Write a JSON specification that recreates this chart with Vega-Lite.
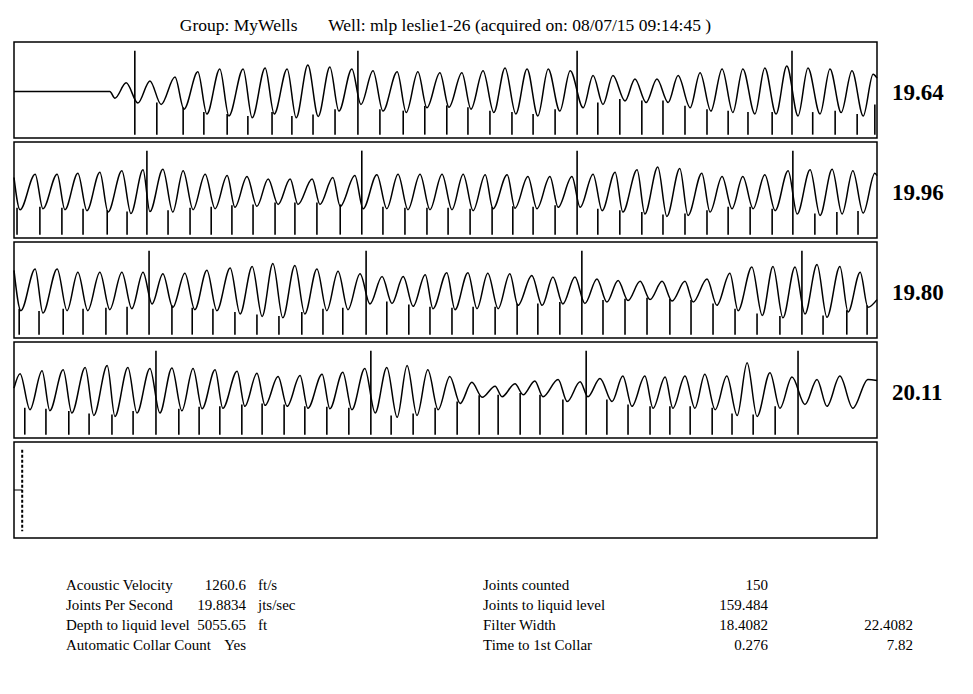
{
  "$schema": "https://vega.github.io/schema/vega-lite/v6.json",
  "background": "white",
  "padding": {"left": 10, "top": 15, "right": 5, "bottom": 5},
  "config": {
    "font": "Liberation Serif",
    "view": {"stroke": "black", "strokeWidth": 1.5},
    "title": {"font": "Liberation Serif", "fontWeight": "normal", "color": "black"}
  },
  "datasets": {
    "wave": [
      {"r":1,"t":0,"v":-0.03},{"r":1,"t":0.222,"v":-0.03},{"r":1,"t":0.234,"v":-0.17},{"r":1,"t":0.26,"v":0.15},{"r":1,"t":0.287,"v":-0.27},{"r":1,"t":0.315,"v":0.19},{"r":1,"t":0.341,"v":-0.3},{"r":1,"t":0.373,"v":0.27},{"r":1,"t":0.394,"v":-0.4},{"r":1,"t":0.426,"v":0.38},{"r":1,"t":0.447,"v":-0.5},{"r":1,"t":0.477,"v":0.44},{"r":1,"t":0.498,"v":-0.54},{"r":1,"t":0.531,"v":0.44},{"r":1,"t":0.552,"v":-0.58},{"r":1,"t":0.582,"v":0.46},{"r":1,"t":0.603,"v":-0.5},{"r":1,"t":0.633,"v":0.44},{"r":1,"t":0.654,"v":-0.58},{"r":1,"t":0.681,"v":0.52},{"r":1,"t":0.705,"v":-0.55},{"r":1,"t":0.732,"v":0.48},{"r":1,"t":0.753,"v":-0.44},{"r":1,"t":0.783,"v":0.44},{"r":1,"t":0.804,"v":-0.3},{"r":1,"t":0.832,"v":0.4},{"r":1,"t":0.855,"v":-0.44},{"r":1,"t":0.888,"v":0.38},{"r":1,"t":0.909,"v":-0.47},{"r":1,"t":0.936,"v":0.38},{"r":1,"t":0.957,"v":-0.37},{"r":1,"t":0.987,"v":0.36},{"r":1,"t":1.008,"v":-0.36},{"r":1,"t":1.038,"v":0.36},{"r":1,"t":1.059,"v":-0.4},{"r":1,"t":1.087,"v":0.4},{"r":1,"t":1.112,"v":-0.47},{"r":1,"t":1.138,"v":0.46},{"r":1,"t":1.163,"v":-0.5},{"r":1,"t":1.189,"v":0.44},{"r":1,"t":1.214,"v":-0.54},{"r":1,"t":1.238,"v":0.44},{"r":1,"t":1.265,"v":-0.44},{"r":1,"t":1.289,"v":0.4},{"r":1,"t":1.319,"v":-0.37},{"r":1,"t":1.342,"v":0.3},{"r":1,"t":1.365,"v":-0.3},{"r":1,"t":1.388,"v":0.3},{"r":1,"t":1.416,"v":-0.23},{"r":1,"t":1.439,"v":0.23},{"r":1,"t":1.465,"v":-0.26},{"r":1,"t":1.49,"v":0.23},{"r":1,"t":1.516,"v":-0.26},{"r":1,"t":1.539,"v":0.3},{"r":1,"t":1.567,"v":-0.37},{"r":1,"t":1.59,"v":0.36},{"r":1,"t":1.615,"v":-0.44},{"r":1,"t":1.641,"v":0.44},{"r":1,"t":1.666,"v":-0.47},{"r":1,"t":1.689,"v":0.44},{"r":1,"t":1.717,"v":-0.5},{"r":1,"t":1.74,"v":0.46},{"r":1,"t":1.766,"v":-0.5},{"r":1,"t":1.791,"v":0.5},{"r":1,"t":1.817,"v":-0.54},{"r":1,"t":1.84,"v":0.46},{"r":1,"t":1.868,"v":-0.5},{"r":1,"t":1.891,"v":0.44},{"r":1,"t":1.917,"v":-0.47},{"r":1,"t":1.942,"v":0.4},{"r":1,"t":1.968,"v":-0.54},{"r":1,"t":1.991,"v":0.33},{"r":1,"t":2.0,"v":0.25},

      {"r":2,"t":0,"v":0.26},{"r":2,"t":0.014,"v":-0.41},{"r":2,"t":0.049,"v":0.33},{"r":2,"t":0.067,"v":-0.39},{"r":2,"t":0.1,"v":0.33},{"r":2,"t":0.118,"v":-0.41},{"r":2,"t":0.148,"v":0.35},{"r":2,"t":0.169,"v":-0.43},{"r":2,"t":0.199,"v":0.37},{"r":2,"t":0.218,"v":-0.46},{"r":2,"t":0.25,"v":0.4},{"r":2,"t":0.271,"v":-0.49},{"r":2,"t":0.299,"v":0.42},{"r":2,"t":0.315,"v":-0.45},{"r":2,"t":0.345,"v":0.43},{"r":2,"t":0.368,"v":-0.46},{"r":2,"t":0.392,"v":0.4},{"r":2,"t":0.415,"v":-0.41},{"r":2,"t":0.443,"v":0.33},{"r":2,"t":0.466,"v":-0.39},{"r":2,"t":0.494,"v":0.3},{"r":2,"t":0.512,"v":-0.36},{"r":2,"t":0.54,"v":0.28},{"r":2,"t":0.563,"v":-0.34},{"r":2,"t":0.589,"v":0.23},{"r":2,"t":0.612,"v":-0.3},{"r":2,"t":0.64,"v":0.23},{"r":2,"t":0.658,"v":-0.3},{"r":2,"t":0.691,"v":0.23},{"r":2,"t":0.709,"v":-0.3},{"r":2,"t":0.739,"v":0.26},{"r":2,"t":0.756,"v":-0.34},{"r":2,"t":0.79,"v":0.3},{"r":2,"t":0.809,"v":-0.39},{"r":2,"t":0.841,"v":0.32},{"r":2,"t":0.864,"v":-0.39},{"r":2,"t":0.89,"v":0.33},{"r":2,"t":0.913,"v":-0.41},{"r":2,"t":0.941,"v":0.33},{"r":2,"t":0.964,"v":-0.41},{"r":2,"t":0.992,"v":0.33},{"r":2,"t":1.015,"v":-0.41},{"r":2,"t":1.041,"v":0.33},{"r":2,"t":1.064,"v":-0.43},{"r":2,"t":1.092,"v":0.32},{"r":2,"t":1.11,"v":-0.39},{"r":2,"t":1.143,"v":0.32},{"r":2,"t":1.161,"v":-0.38},{"r":2,"t":1.191,"v":0.28},{"r":2,"t":1.212,"v":-0.39},{"r":2,"t":1.242,"v":0.28},{"r":2,"t":1.261,"v":-0.36},{"r":2,"t":1.293,"v":0.28},{"r":2,"t":1.312,"v":-0.36},{"r":2,"t":1.342,"v":0.33},{"r":2,"t":1.363,"v":-0.43},{"r":2,"t":1.393,"v":0.37},{"r":2,"t":1.411,"v":-0.46},{"r":2,"t":1.444,"v":0.42},{"r":2,"t":1.462,"v":-0.5},{"r":2,"t":1.492,"v":0.48},{"r":2,"t":1.513,"v":-0.55},{"r":2,"t":1.543,"v":0.45},{"r":2,"t":1.562,"v":-0.53},{"r":2,"t":1.594,"v":0.35},{"r":2,"t":1.613,"v":-0.46},{"r":2,"t":1.641,"v":0.28},{"r":2,"t":1.664,"v":-0.39},{"r":2,"t":1.689,"v":0.28},{"r":2,"t":1.713,"v":-0.39},{"r":2,"t":1.74,"v":0.32},{"r":2,"t":1.764,"v":-0.43},{"r":2,"t":1.794,"v":0.4},{"r":2,"t":1.815,"v":-0.5},{"r":2,"t":1.845,"v":0.42},{"r":2,"t":1.868,"v":-0.53},{"r":2,"t":1.896,"v":0.43},{"r":2,"t":1.919,"v":-0.5},{"r":2,"t":1.944,"v":0.4},{"r":2,"t":1.968,"v":-0.48},{"r":2,"t":1.995,"v":0.35},{"r":2,"t":2.0,"v":0.3},

      {"r":3,"t":0,"v":0.41},{"r":3,"t":0.016,"v":-0.43},{"r":3,"t":0.049,"v":0.44},{"r":3,"t":0.067,"v":-0.48},{"r":3,"t":0.1,"v":0.44},{"r":3,"t":0.123,"v":-0.43},{"r":3,"t":0.148,"v":0.37},{"r":3,"t":0.171,"v":-0.43},{"r":3,"t":0.199,"v":0.37},{"r":3,"t":0.222,"v":-0.41},{"r":3,"t":0.25,"v":0.37},{"r":3,"t":0.273,"v":-0.39},{"r":3,"t":0.299,"v":0.37},{"r":3,"t":0.32,"v":-0.29},{"r":3,"t":0.345,"v":0.34},{"r":3,"t":0.368,"v":-0.36},{"r":3,"t":0.396,"v":0.35},{"r":3,"t":0.419,"v":-0.41},{"r":3,"t":0.447,"v":0.41},{"r":3,"t":0.47,"v":-0.43},{"r":3,"t":0.501,"v":0.46},{"r":3,"t":0.524,"v":-0.5},{"r":3,"t":0.552,"v":0.49},{"r":3,"t":0.575,"v":-0.55},{"r":3,"t":0.6,"v":0.55},{"r":3,"t":0.623,"v":-0.58},{"r":3,"t":0.651,"v":0.51},{"r":3,"t":0.674,"v":-0.5},{"r":3,"t":0.702,"v":0.44},{"r":3,"t":0.725,"v":-0.43},{"r":3,"t":0.751,"v":0.39},{"r":3,"t":0.774,"v":-0.41},{"r":3,"t":0.802,"v":0.34},{"r":3,"t":0.825,"v":-0.29},{"r":3,"t":0.853,"v":0.28},{"r":3,"t":0.876,"v":-0.28},{"r":3,"t":0.902,"v":0.28},{"r":3,"t":0.925,"v":-0.34},{"r":3,"t":0.953,"v":0.32},{"r":3,"t":0.971,"v":-0.39},{"r":3,"t":1.003,"v":0.36},{"r":3,"t":1.022,"v":-0.41},{"r":3,"t":1.052,"v":0.36},{"r":3,"t":1.073,"v":-0.39},{"r":3,"t":1.098,"v":0.35},{"r":3,"t":1.122,"v":-0.39},{"r":3,"t":1.149,"v":0.34},{"r":3,"t":1.168,"v":-0.32},{"r":3,"t":1.2,"v":0.3},{"r":3,"t":1.224,"v":-0.32},{"r":3,"t":1.249,"v":0.27},{"r":3,"t":1.272,"v":-0.29},{"r":3,"t":1.3,"v":0.27},{"r":3,"t":1.323,"v":-0.28},{"r":3,"t":1.351,"v":0.23},{"r":3,"t":1.374,"v":-0.25},{"r":3,"t":1.4,"v":0.2},{"r":3,"t":1.423,"v":-0.22},{"r":3,"t":1.451,"v":0.18},{"r":3,"t":1.474,"v":-0.2},{"r":3,"t":1.502,"v":0.18},{"r":3,"t":1.525,"v":-0.23},{"r":3,"t":1.555,"v":0.18},{"r":3,"t":1.574,"v":-0.25},{"r":3,"t":1.606,"v":0.23},{"r":3,"t":1.629,"v":-0.32},{"r":3,"t":1.659,"v":0.35},{"r":3,"t":1.678,"v":-0.43},{"r":3,"t":1.71,"v":0.48},{"r":3,"t":1.734,"v":-0.53},{"r":3,"t":1.759,"v":0.49},{"r":3,"t":1.782,"v":-0.58},{"r":3,"t":1.81,"v":0.48},{"r":3,"t":1.833,"v":-0.5},{"r":3,"t":1.861,"v":0.53},{"r":3,"t":1.884,"v":-0.57},{"r":3,"t":1.914,"v":0.49},{"r":3,"t":1.933,"v":-0.46},{"r":3,"t":1.961,"v":0.37},{"r":3,"t":1.979,"v":-0.36},{"r":3,"t":2.0,"v":-0.2},

      {"r":4,"t":0,"v":0.04},{"r":4,"t":0.014,"v":0.34},{"r":4,"t":0.037,"v":-0.41},{"r":4,"t":0.065,"v":0.4},{"r":4,"t":0.083,"v":-0.43},{"r":4,"t":0.114,"v":0.42},{"r":4,"t":0.134,"v":-0.48},{"r":4,"t":0.165,"v":0.47},{"r":4,"t":0.185,"v":-0.53},{"r":4,"t":0.216,"v":0.51},{"r":4,"t":0.234,"v":-0.55},{"r":4,"t":0.264,"v":0.47},{"r":4,"t":0.285,"v":-0.48},{"r":4,"t":0.315,"v":0.45},{"r":4,"t":0.338,"v":-0.48},{"r":4,"t":0.366,"v":0.46},{"r":4,"t":0.389,"v":-0.43},{"r":4,"t":0.415,"v":0.45},{"r":4,"t":0.436,"v":-0.39},{"r":4,"t":0.466,"v":0.42},{"r":4,"t":0.484,"v":-0.38},{"r":4,"t":0.517,"v":0.39},{"r":4,"t":0.535,"v":-0.34},{"r":4,"t":0.563,"v":0.35},{"r":4,"t":0.582,"v":-0.32},{"r":4,"t":0.612,"v":0.28},{"r":4,"t":0.633,"v":-0.34},{"r":4,"t":0.663,"v":0.3},{"r":4,"t":0.681,"v":-0.38},{"r":4,"t":0.714,"v":0.33},{"r":4,"t":0.732,"v":-0.39},{"r":4,"t":0.762,"v":0.37},{"r":4,"t":0.783,"v":-0.41},{"r":4,"t":0.813,"v":0.45},{"r":4,"t":0.837,"v":-0.48},{"r":4,"t":0.864,"v":0.47},{"r":4,"t":0.888,"v":-0.57},{"r":4,"t":0.911,"v":0.51},{"r":4,"t":0.934,"v":-0.53},{"r":4,"t":0.959,"v":0.42},{"r":4,"t":0.983,"v":-0.41},{"r":4,"t":1.01,"v":0.28},{"r":4,"t":1.034,"v":-0.28},{"r":4,"t":1.061,"v":0.16},{"r":4,"t":1.085,"v":-0.15},{"r":4,"t":1.115,"v":0.08},{"r":4,"t":1.131,"v":-0.14},{"r":4,"t":1.161,"v":0.13},{"r":4,"t":1.18,"v":-0.1},{"r":4,"t":1.207,"v":0.19},{"r":4,"t":1.226,"v":-0.14},{"r":4,"t":1.261,"v":0.22},{"r":4,"t":1.282,"v":-0.24},{"r":4,"t":1.312,"v":0.17},{"r":4,"t":1.33,"v":-0.14},{"r":4,"t":1.358,"v":0.24},{"r":4,"t":1.386,"v":-0.24},{"r":4,"t":1.411,"v":0.29},{"r":4,"t":1.432,"v":-0.34},{"r":4,"t":1.462,"v":0.29},{"r":4,"t":1.481,"v":-0.38},{"r":4,"t":1.509,"v":0.27},{"r":4,"t":1.527,"v":-0.38},{"r":4,"t":1.555,"v":0.29},{"r":4,"t":1.578,"v":-0.38},{"r":4,"t":1.601,"v":0.33},{"r":4,"t":1.625,"v":-0.41},{"r":4,"t":1.652,"v":0.29},{"r":4,"t":1.676,"v":-0.53},{"r":4,"t":1.699,"v":0.57},{"r":4,"t":1.722,"v":-0.55},{"r":4,"t":1.752,"v":0.36},{"r":4,"t":1.775,"v":-0.38},{"r":4,"t":1.803,"v":0.27},{"r":4,"t":1.833,"v":-0.3},{"r":4,"t":1.861,"v":0.22},{"r":4,"t":1.884,"v":-0.34},{"r":4,"t":1.914,"v":0.29},{"r":4,"t":1.944,"v":-0.38},{"r":4,"t":1.979,"v":0.22},{"r":4,"t":2.0,"v":0.2}
    ],
    "ticks": [
      {"r":1,"t":0.28,"top":0.82},{"r":1,"t":0.331,"top":-0.26},{"r":1,"t":0.392,"top":-0.36},{"r":1,"t":0.44,"top":-0.46},{"r":1,"t":0.494,"top":-0.5},{"r":1,"t":0.542,"top":-0.54},{"r":1,"t":0.598,"top":-0.46},{"r":1,"t":0.644,"top":-0.54},{"r":1,"t":0.693,"top":-0.51},{"r":1,"t":0.744,"top":-0.4},{"r":1,"t":0.797,"top":0.82},{"r":1,"t":0.848,"top":-0.4},{"r":1,"t":0.902,"top":-0.43},{"r":1,"t":0.952,"top":-0.33},{"r":1,"t":1.003,"top":-0.32},{"r":1,"t":1.052,"top":-0.36},{"r":1,"t":1.103,"top":-0.43},{"r":1,"t":1.154,"top":-0.46},{"r":1,"t":1.203,"top":-0.5},{"r":1,"t":1.254,"top":-0.4},{"r":1,"t":1.305,"top":0.82},{"r":1,"t":1.353,"top":-0.26},{"r":1,"t":1.404,"top":-0.19},{"r":1,"t":1.455,"top":-0.22},{"r":1,"t":1.504,"top":-0.22},{"r":1,"t":1.555,"top":-0.33},{"r":1,"t":1.606,"top":-0.4},{"r":1,"t":1.655,"top":-0.43},{"r":1,"t":1.701,"top":-0.46},{"r":1,"t":1.757,"top":-0.46},{"r":1,"t":1.803,"top":0.82},{"r":1,"t":1.851,"top":-0.46},{"r":1,"t":1.903,"top":-0.43},{"r":1,"t":1.954,"top":-0.5},{"r":1,"t":1.995,"top":-0.3},

      {"r":2,"t":0.007,"top":-0.37},{"r":2,"t":0.06,"top":-0.35},{"r":2,"t":0.111,"top":-0.37},{"r":2,"t":0.16,"top":-0.39},{"r":2,"t":0.216,"top":-0.42},{"r":2,"t":0.262,"top":-0.45},{"r":2,"t":0.308,"top":0.82},{"r":2,"t":0.357,"top":-0.42},{"r":2,"t":0.408,"top":-0.37},{"r":2,"t":0.457,"top":-0.35},{"r":2,"t":0.505,"top":-0.32},{"r":2,"t":0.554,"top":-0.3},{"r":2,"t":0.605,"top":-0.26},{"r":2,"t":0.651,"top":-0.26},{"r":2,"t":0.702,"top":-0.26},{"r":2,"t":0.756,"top":-0.3},{"r":2,"t":0.806,"top":0.82},{"r":2,"t":0.855,"top":-0.35},{"r":2,"t":0.906,"top":-0.37},{"r":2,"t":0.957,"top":-0.37},{"r":2,"t":1.006,"top":-0.37},{"r":2,"t":1.057,"top":-0.39},{"r":2,"t":1.108,"top":-0.35},{"r":2,"t":1.156,"top":-0.34},{"r":2,"t":1.203,"top":-0.35},{"r":2,"t":1.254,"top":-0.32},{"r":2,"t":1.305,"top":0.82},{"r":2,"t":1.353,"top":-0.39},{"r":2,"t":1.404,"top":-0.42},{"r":2,"t":1.455,"top":-0.46},{"r":2,"t":1.504,"top":-0.51},{"r":2,"t":1.555,"top":-0.49},{"r":2,"t":1.606,"top":-0.42},{"r":2,"t":1.655,"top":-0.35},{"r":2,"t":1.706,"top":-0.35},{"r":2,"t":1.757,"top":-0.39},{"r":2,"t":1.805,"top":0.82},{"r":2,"t":1.856,"top":-0.49},{"r":2,"t":1.907,"top":-0.46},{"r":2,"t":1.956,"top":-0.44},

      {"r":3,"t":0.012,"top":-0.39},{"r":3,"t":0.058,"top":-0.44},{"r":3,"t":0.114,"top":-0.39},{"r":3,"t":0.16,"top":-0.39},{"r":3,"t":0.213,"top":-0.37},{"r":3,"t":0.262,"top":-0.35},{"r":3,"t":0.313,"top":0.82},{"r":3,"t":0.366,"top":-0.32},{"r":3,"t":0.413,"top":-0.37},{"r":3,"t":0.461,"top":-0.39},{"r":3,"t":0.512,"top":-0.46},{"r":3,"t":0.563,"top":-0.51},{"r":3,"t":0.614,"top":-0.54},{"r":3,"t":0.667,"top":-0.46},{"r":3,"t":0.716,"top":-0.39},{"r":3,"t":0.762,"top":-0.37},{"r":3,"t":0.816,"top":0.82},{"r":3,"t":0.864,"top":-0.24},{"r":3,"t":0.915,"top":-0.3},{"r":3,"t":0.964,"top":-0.35},{"r":3,"t":1.015,"top":-0.37},{"r":3,"t":1.064,"top":-0.35},{"r":3,"t":1.115,"top":-0.35},{"r":3,"t":1.166,"top":-0.28},{"r":3,"t":1.214,"top":-0.28},{"r":3,"t":1.265,"top":-0.25},{"r":3,"t":1.316,"top":0.82},{"r":3,"t":1.365,"top":-0.21},{"r":3,"t":1.416,"top":-0.18},{"r":3,"t":1.467,"top":-0.16},{"r":3,"t":1.52,"top":-0.19},{"r":3,"t":1.569,"top":-0.21},{"r":3,"t":1.62,"top":-0.28},{"r":3,"t":1.671,"top":-0.39},{"r":3,"t":1.722,"top":-0.49},{"r":3,"t":1.775,"top":-0.54},{"r":3,"t":1.826,"top":0.82},{"r":3,"t":1.875,"top":-0.53},{"r":3,"t":1.93,"top":-0.42},{"r":3,"t":1.977,"top":-0.32},

      {"r":4,"t":0.025,"top":-0.37},{"r":4,"t":0.074,"top":-0.39},{"r":4,"t":0.127,"top":-0.44},{"r":4,"t":0.174,"top":-0.49},{"r":4,"t":0.227,"top":-0.51},{"r":4,"t":0.276,"top":-0.44},{"r":4,"t":0.329,"top":0.82},{"r":4,"t":0.382,"top":-0.39},{"r":4,"t":0.429,"top":-0.35},{"r":4,"t":0.477,"top":-0.34},{"r":4,"t":0.528,"top":-0.3},{"r":4,"t":0.575,"top":-0.28},{"r":4,"t":0.626,"top":-0.3},{"r":4,"t":0.674,"top":-0.34},{"r":4,"t":0.725,"top":-0.35},{"r":4,"t":0.776,"top":-0.37},{"r":4,"t":0.827,"top":0.82},{"r":4,"t":0.874,"top":-0.53},{"r":4,"t":0.925,"top":-0.49},{"r":4,"t":0.976,"top":-0.37},{"r":4,"t":1.027,"top":-0.24},{"r":4,"t":1.078,"top":-0.11},{"r":4,"t":1.122,"top":-0.1},{"r":4,"t":1.173,"top":-0.06},{"r":4,"t":1.219,"top":-0.1},{"r":4,"t":1.272,"top":-0.2},{"r":4,"t":1.326,"top":0.82},{"r":4,"t":1.374,"top":-0.2},{"r":4,"t":1.423,"top":-0.3},{"r":4,"t":1.474,"top":-0.34},{"r":4,"t":1.52,"top":-0.34},{"r":4,"t":1.567,"top":-0.34},{"r":4,"t":1.618,"top":-0.37},{"r":4,"t":1.664,"top":-0.49},{"r":4,"t":1.713,"top":-0.51},{"r":4,"t":1.764,"top":-0.34},{"r":4,"t":1.817,"top":0.82}
    ],
    "labels": [
      {"r":1,"rate":"19.64"},{"r":2,"rate":"19.96"},{"r":3,"rate":"19.80"},{"r":4,"rate":"20.11"}
    ],
    "level": [{"t":0.019}],
    "table": [
      {"r":1,"c":"A","s":"Acoustic Velocity"},{"r":2,"c":"A","s":"Joints Per Second"},{"r":3,"c":"A","s":"Depth to liquid level"},{"r":4,"c":"A","s":"Automatic Collar Count"},
      {"r":1,"c":"B","s":"1260.6"},{"r":2,"c":"B","s":"19.8834"},{"r":3,"c":"B","s":"5055.65"},{"r":4,"c":"B","s":"Yes"},
      {"r":1,"c":"C","s":"ft/s"},{"r":2,"c":"C","s":"jts/sec"},{"r":3,"c":"C","s":"ft"},
      {"r":1,"c":"D","s":"Joints counted"},{"r":2,"c":"D","s":"Joints to liquid level"},{"r":3,"c":"D","s":"Filter Width"},{"r":4,"c":"D","s":"Time to 1st Collar"},
      {"r":1,"c":"E","s":"150"},{"r":2,"c":"E","s":"159.484"},{"r":3,"c":"E","s":"18.4082"},{"r":4,"c":"E","s":"0.276"},
      {"r":3,"c":"F","s":"22.4082"},{"r":4,"c":"F","s":"7.82"}
    ]
  },
  "spacing": 36,
  "vconcat": [
    {
      "bounds": "flush",
      "spacing": 4,
      "vconcat": [
        {"width": 863, "height": 96,
         "title": {"text": "Group: MyWells\u00a0\u00a0\u00a0\u00a0\u00a0\u00a0\u00a0Well: mlp leslie1-26 (acquired on: 08/07/15 09:14:45 )", "fontSize": 17.5, "anchor": "middle", "frame": "group", "offset": 8},
         "layer": [
          {"data": {"name": "wave"}, "transform": [{"filter": "datum.r == 1"}], "mark": {"type": "line", "interpolate": "monotone", "color": "black", "strokeWidth": 1.5},
           "encoding": {"x": {"field": "t", "type": "quantitative", "scale": {"domain": [0, 2]}, "axis": null}, "y": {"field": "v", "type": "quantitative", "scale": {"domain": [-1, 1]}, "axis": null}}},
          {"data": {"name": "ticks"}, "transform": [{"filter": "datum.r == 1"}], "mark": {"type": "rule", "color": "black", "strokeWidth": 1.6},
           "encoding": {"x": {"field": "t", "type": "quantitative"}, "y": {"field": "top", "type": "quantitative"}, "y2": {"datum": -0.93}}},
          {"data": {"name": "labels"}, "transform": [{"filter": "datum.r == 1"}], "mark": {"type": "text", "align": "left", "baseline": "middle", "dx": 15, "dy": 3, "fontSize": 23, "fontWeight": "bold", "color": "black"},
           "encoding": {"x": {"datum": 2, "type": "quantitative"}, "y": {"datum": 0, "type": "quantitative"}, "text": {"field": "rate", "type": "nominal"}}}
        ]},
        {"width": 863, "height": 96, "layer": [
          {"data": {"name": "wave"}, "transform": [{"filter": "datum.r == 2"}], "mark": {"type": "line", "interpolate": "monotone", "color": "black", "strokeWidth": 1.5},
           "encoding": {"x": {"field": "t", "type": "quantitative", "scale": {"domain": [0, 2]}, "axis": null}, "y": {"field": "v", "type": "quantitative", "scale": {"domain": [-1, 1]}, "axis": null}}},
          {"data": {"name": "ticks"}, "transform": [{"filter": "datum.r == 2"}], "mark": {"type": "rule", "color": "black", "strokeWidth": 1.6},
           "encoding": {"x": {"field": "t", "type": "quantitative"}, "y": {"field": "top", "type": "quantitative"}, "y2": {"datum": -0.93}}},
          {"data": {"name": "labels"}, "transform": [{"filter": "datum.r == 2"}], "mark": {"type": "text", "align": "left", "baseline": "middle", "dx": 15, "dy": 3, "fontSize": 23, "fontWeight": "bold", "color": "black"},
           "encoding": {"x": {"datum": 2, "type": "quantitative"}, "y": {"datum": 0, "type": "quantitative"}, "text": {"field": "rate", "type": "nominal"}}}
        ]},
        {"width": 863, "height": 96, "layer": [
          {"data": {"name": "wave"}, "transform": [{"filter": "datum.r == 3"}], "mark": {"type": "line", "interpolate": "monotone", "color": "black", "strokeWidth": 1.5},
           "encoding": {"x": {"field": "t", "type": "quantitative", "scale": {"domain": [0, 2]}, "axis": null}, "y": {"field": "v", "type": "quantitative", "scale": {"domain": [-1, 1]}, "axis": null}}},
          {"data": {"name": "ticks"}, "transform": [{"filter": "datum.r == 3"}], "mark": {"type": "rule", "color": "black", "strokeWidth": 1.6},
           "encoding": {"x": {"field": "t", "type": "quantitative"}, "y": {"field": "top", "type": "quantitative"}, "y2": {"datum": -0.93}}},
          {"data": {"name": "labels"}, "transform": [{"filter": "datum.r == 3"}], "mark": {"type": "text", "align": "left", "baseline": "middle", "dx": 15, "dy": 3, "fontSize": 23, "fontWeight": "bold", "color": "black"},
           "encoding": {"x": {"datum": 2, "type": "quantitative"}, "y": {"datum": 0, "type": "quantitative"}, "text": {"field": "rate", "type": "nominal"}}}
        ]},
        {"width": 863, "height": 96, "layer": [
          {"data": {"name": "wave"}, "transform": [{"filter": "datum.r == 4"}], "mark": {"type": "line", "interpolate": "monotone", "color": "black", "strokeWidth": 1.5},
           "encoding": {"x": {"field": "t", "type": "quantitative", "scale": {"domain": [0, 2]}, "axis": null}, "y": {"field": "v", "type": "quantitative", "scale": {"domain": [-1, 1]}, "axis": null}}},
          {"data": {"name": "ticks"}, "transform": [{"filter": "datum.r == 4"}], "mark": {"type": "rule", "color": "black", "strokeWidth": 1.6},
           "encoding": {"x": {"field": "t", "type": "quantitative"}, "y": {"field": "top", "type": "quantitative"}, "y2": {"datum": -0.93}}},
          {"data": {"name": "labels"}, "transform": [{"filter": "datum.r == 4"}], "mark": {"type": "text", "align": "left", "baseline": "middle", "dx": 15, "dy": 3, "fontSize": 23, "fontWeight": "bold", "color": "black"},
           "encoding": {"x": {"datum": 2, "type": "quantitative"}, "y": {"datum": 0, "type": "quantitative"}, "text": {"field": "rate", "type": "nominal"}}}
        ]},
        {"width": 863, "height": 96, "data": {"name": "level"}, "layer": [
          {"mark": {"type": "rule", "color": "black", "strokeWidth": 2, "strokeDash": [3, 2]},
           "encoding": {"x": {"field": "t", "type": "quantitative", "scale": {"domain": [0, 2]}, "axis": null}, "y": {"datum": 0.84, "type": "quantitative", "scale": {"domain": [-1, 1]}, "axis": null}, "y2": {"datum": -0.86}}},
          {"mark": {"type": "rule", "color": "black", "strokeWidth": 1},
           "encoding": {"x": {"field": "t", "type": "quantitative"}, "x2": {"datum": 0}, "y": {"datum": 0, "type": "quantitative"}}}
        ]}
      ]
    },
    {
      "bounds": "flush",
      "spacing": 0,
      "data": {"name": "table"},
      "hconcat": [
        {"width": 52, "height": 80, "view": {"stroke": null}, "transform": [{"filter": "datum.c == 'A'"}], "mark": {"type": "text", "align": "left", "baseline": "middle", "fontSize": 15, "color": "black"},
         "encoding": {"x": {"value": "width"}, "y": {"field": "r", "type": "ordinal", "scale": {"type": "point", "padding": 0.5, "domain": [1, 2, 3, 4]}, "axis": null}, "text": {"field": "s", "type": "nominal"}}},
        {"width": 180, "height": 80, "view": {"stroke": null}, "transform": [{"filter": "datum.c == 'B'"}], "mark": {"type": "text", "align": "right", "baseline": "middle", "fontSize": 15, "color": "black"},
         "encoding": {"x": {"value": "width"}, "y": {"field": "r", "type": "ordinal", "scale": {"type": "point", "padding": 0.5, "domain": [1, 2, 3, 4]}, "axis": null}, "text": {"field": "s", "type": "nominal"}}},
        {"width": 12, "height": 80, "view": {"stroke": null}, "transform": [{"filter": "datum.c == 'C'"}], "mark": {"type": "text", "align": "left", "baseline": "middle", "fontSize": 15, "color": "black"},
         "encoding": {"x": {"value": "width"}, "y": {"field": "r", "type": "ordinal", "scale": {"type": "point", "padding": 0.5, "domain": [1, 2, 3, 4]}, "axis": null}, "text": {"field": "s", "type": "nominal"}}},
        {"width": 225, "height": 80, "view": {"stroke": null}, "transform": [{"filter": "datum.c == 'D'"}], "mark": {"type": "text", "align": "left", "baseline": "middle", "fontSize": 15, "color": "black"},
         "encoding": {"x": {"value": "width"}, "y": {"field": "r", "type": "ordinal", "scale": {"type": "point", "padding": 0.5, "domain": [1, 2, 3, 4]}, "axis": null}, "text": {"field": "s", "type": "nominal"}}},
        {"width": 285, "height": 80, "view": {"stroke": null}, "transform": [{"filter": "datum.c == 'E'"}], "mark": {"type": "text", "align": "right", "baseline": "middle", "fontSize": 15, "color": "black"},
         "encoding": {"x": {"value": "width"}, "y": {"field": "r", "type": "ordinal", "scale": {"type": "point", "padding": 0.5, "domain": [1, 2, 3, 4]}, "axis": null}, "text": {"field": "s", "type": "nominal"}}},
        {"width": 145, "height": 80, "view": {"stroke": null}, "transform": [{"filter": "datum.c == 'F'"}], "mark": {"type": "text", "align": "right", "baseline": "middle", "fontSize": 15, "color": "black"},
         "encoding": {"x": {"value": "width"}, "y": {"field": "r", "type": "ordinal", "scale": {"type": "point", "padding": 0.5, "domain": [1, 2, 3, 4]}, "axis": null}, "text": {"field": "s", "type": "nominal"}}}
      ]
    }
  ]
}
